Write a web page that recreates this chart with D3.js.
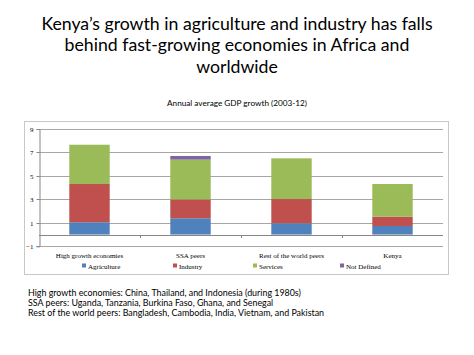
<!DOCTYPE html>
<html><head><meta charset="utf-8">
<script src="https://cdn.jsdelivr.net/npm/d3@7"></script>
<style>body{margin:0;background:#fff}svg{display:block}</style>
</head><body>
<svg id="c" width="474" height="355"></svg>
<script>
const categories = ["High growth economies", "SSA peers", "Rest of the world peers", "Kenya"];
const seriesNames = ["Agriculture", "Industry", "Services", "Not Defined"];
const agriculture = [1.05, 1.39, 0.96, 0.73];
const industry = [3.26, 1.61, 2.07, 0.80];
const services = [3.35, 3.39, 3.47, 2.78];
const notDefined = [0, 0.31, 0, 0];
const yTicks = [-1, 1, 3, 5, 7, 9];
const colors = ["#4F81BD", "#C0504D", "#9BBB59", "#8064A2"];
const titleLines = ["Kenya\u2019s growth in agriculture and industry has falls", "behind fast-growing economies in Africa and", "worldwide"];
const subtitle = "Annual average GDP growth (2003-12)";
const notes = ["High growth economies: China, Thailand, and Indonesia (during 1980s)",
  "SSA peers: Uganda, Tanzania, Burkina Faso, Ghana, and Senegal",
  "Rest of the world peers: Bangladesh, Cambodia, India, Vietnam, and Pakistan"];

const data = categories.map((c, i) => ({cat: c, Agriculture: agriculture[i], Industry: industry[i], Services: services[i], "Not Defined": notDefined[i]}));
const svg = d3.select("#c");

// title
svg.append("g").selectAll("text").data(titleLines).join("text")
  .attr("x", 237).attr("y", (d, i) => 30 + i * 21.3)
  .attr("text-anchor", "middle").attr("font-family", "Lato, 'Open Sans', sans-serif")
  .attr("font-size", 17.7).attr("fill", "#000").text(d => d);

svg.append("text").attr("x", 237).attr("y", 106).attr("text-anchor", "middle")
  .attr("font-family", "Lato, sans-serif").attr("font-size", 8.2).attr("fill", "#000").text(subtitle);

// chart frame
svg.append("rect").attr("x", 24.5).attr("y", 121.5).attr("width", 424).attr("height", 153)
  .attr("fill", "#fff").attr("stroke", "#C8C8C8").attr("stroke-width", 1);

const x = d3.scaleBand().domain(categories).range([39, 443]).paddingInner(0.6).paddingOuter(0.3);
const y = d3.scaleLinear().domain([-1, 9]).range([246.3, 129]);

// gridlines
svg.append("g").selectAll("line").data(yTicks).join("line")
  .attr("x1", 39).attr("x2", 443).attr("y1", d => Math.round(y(d)) + 0.5).attr("y2", d => Math.round(y(d)) + 0.5)
  .attr("stroke", "#A6A6A6").attr("stroke-width", 1);

// y axis
const yAxis = svg.append("g").attr("transform", "translate(39.5,0)")
  .call(d3.axisLeft(y).tickValues(yTicks).tickSize(3).tickPadding(3));
yAxis.select(".domain").attr("stroke", "#868686");
yAxis.selectAll(".tick line").attr("stroke", "#868686");
yAxis.selectAll(".tick").attr("transform", d => `translate(0,${Math.round(y(d)) + 0.5})`);
yAxis.selectAll("text").attr("font-family", "'Liberation Serif', serif").attr("font-size", 7).attr("fill", "#000");

// bars
const stack = d3.stack().keys(seriesNames)(data);
svg.append("g").selectAll("g").data(stack).join("g")
  .attr("fill", (d, i) => colors[i])
  .selectAll("rect").data(d => d).join("rect")
  .attr("x", d => x(d.data.cat)).attr("width", x.bandwidth())
  .attr("y", d => y(d[1])).attr("height", d => Math.max(0, y(d[0]) - y(d[1])));

// category axis at zero
const xAxis = svg.append("g").attr("transform", `translate(0,${Math.round(y(0)) + 0.5})`)
  .call(d3.axisBottom(x).tickSize(0).tickFormat(""));
xAxis.select(".domain").attr("stroke", "#868686").attr("d", "M39,0H443");
svg.append("g").selectAll("line").data(d3.range(1, categories.length)).join("line")
  .attr("x1", i => Math.round(39 + i * 101) + 0.5).attr("x2", i => Math.round(39 + i * 101) + 0.5)
  .attr("y1", Math.round(y(0)) + 0.5).attr("y2", Math.round(y(0)) + 3)
  .attr("stroke", "#868686");

// category labels
svg.append("g").selectAll("text").data(categories).join("text")
  .attr("x", d => x(d) + x.bandwidth() / 2).attr("y", 257.5).attr("text-anchor", "middle")
  .attr("font-family", "'Liberation Serif', serif").attr("font-size", 7).attr("fill", "#000").text(d => d);

// legend
const legX = [82, 173, 253, 340];
const leg = svg.append("g").selectAll("g").data(seriesNames).join("g")
  .attr("transform", (d, i) => `translate(${legX[i]},266)`);
leg.append("rect").attr("x", 0).attr("y", -2.5).attr("width", 4).attr("height", 4).attr("fill", (d, i) => colors[i]);
leg.append("text").attr("x", 6).attr("y", 2.5).attr("font-family", "'Liberation Serif', serif")
  .attr("font-size", 7).attr("fill", "#000").text(d => d);

// notes
svg.append("g").selectAll("text").data(notes).join("text")
  .attr("x", 28).attr("y", (d, i) => 296 + i * 10)
  .attr("font-family", "Lato, sans-serif").attr("font-size", 8.9).attr("fill", "#000").text(d => d);
</script>
</body></html>
